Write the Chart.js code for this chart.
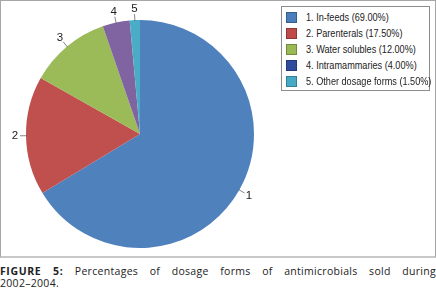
<!DOCTYPE html>
<html>
<head>
<meta charset="utf-8">
<script src="https://cdn.jsdelivr.net/npm/chart.js@4.4.1/dist/chart.umd.min.js"></script>
<style>
  body { margin: 0; background: #fff; width: 436px; height: 290px; overflow: hidden; position: relative; }
  #frame {
    position: absolute; left: 0; top: 0; width: 434px; height: 255px;
    border: 1px solid #a6a6a6; border-bottom: 2px solid #c8c8c8;
  }
  #chart { position: absolute; left: 0; top: 0; }
  #legend {
    position: absolute; left: 280px; top: 5px; width: 149px; height: 85px;
    border: 1px solid #8c8c8c; background: #fff; box-sizing: border-box;
    font: 10.5px "Liberation Sans", sans-serif; color: #222;
  }
  .item { position: absolute; left: 4px; height: 12px; line-height: 12px; white-space: nowrap; }
  .sw { position: absolute; left: 0; top: 1px; width: 9px; height: 9px; border: 1px solid rgba(0,0,0,0.25); }
  .txt { position: absolute; left: 20px; top: 0; transform: scaleX(0.87); transform-origin: 0 0; }
  #caption {
    position: absolute; left: 0; top: 265px; width: 436px;
    font: 10.5px "Open Sans", sans-serif; color: #222; line-height: 12px;
    letter-spacing: 0.3px;
  }
  #caption .l1 { text-align: justify; text-align-last: justify; }
  #caption b { font-weight: bold; letter-spacing: 0.6px; }
</style>
</head>
<body>
<div id="frame">
  <canvas id="chart" width="434" height="255"></canvas>
  <div id="legend"></div>
</div>
<div id="caption">
  <div class="l1"><b>FIGURE 5:</b> Percentages of dosage forms of antimicrobials sold during</div>
  <div>2002–2004.</div>
</div>
<script>
// dosage forms, share of antimicrobials sold (%)
const sliceLabels = ['1', '2', '3', '4', '5'];
const categories = ['1. In-feeds', '2. Parenterals', '3. Water solubles', '4. Intramammaries', '5. Other dosage forms'];
const shares = [69.0, 17.5, 12.0, 4.0, 1.5];
const sliceColors = ['#4f81bd', '#c0504d', '#9bbb59', '#8064a2', '#4bacc6'];
const legendColors = ['#4a7ebb', '#be4b48', '#98b954', '#2f4b9b', '#46aac5'];

// legend box
const legend = document.getElementById('legend');
const rowY = [4, 20, 36, 52, 68];
categories.forEach((name, i) => {
  const row = document.createElement('div');
  row.className = 'item';
  row.style.top = rowY[i] + 'px';
  row.innerHTML = '<span class="sw" style="background:' + legendColors[i] + '"></span>' +
    '<span class="txt">' + name + ' (' + shares[i].toFixed(2) + '%)</span>';
  legend.appendChild(row);
});

// numbers with short leader lines just outside each slice
const outsideLabels = {
  id: 'outsideLabels',
  afterDatasetsDraw(chart) {
    const ctx = chart.ctx;
    const meta = chart.getDatasetMeta(0);
    ctx.save();
    ctx.font = '11.5px "Liberation Sans", sans-serif';
    ctx.fillStyle = '#222';
    ctx.strokeStyle = '#666';
    ctx.lineWidth = 0.8;
    ctx.textAlign = 'center';
    ctx.textBaseline = 'middle';
    meta.data.forEach((arc, i) => {
      const p = arc.getProps(['x', 'y', 'startAngle', 'endAngle', 'outerRadius'], true);
      const a = (p.startAngle + p.endAngle) / 2;
      const c = Math.cos(a), s = Math.sin(a);
      ctx.beginPath();
      ctx.moveTo(p.x + c * (p.outerRadius - 1), p.y + s * (p.outerRadius - 1));
      ctx.lineTo(p.x + c * (p.outerRadius + 6), p.y + s * (p.outerRadius + 6));
      ctx.stroke();
      ctx.fillText(sliceLabels[i], p.x + c * (p.outerRadius + 11), p.y + s * (p.outerRadius + 11));
    });
    ctx.restore();
  }
};

new Chart(document.getElementById('chart'), {
  type: 'pie',
  data: {
    labels: categories,
    datasets: [{
      data: shares,
      backgroundColor: sliceColors,
      borderWidth: 0,
      hoverOffset: 0
    }]
  },
  options: {
    responsive: false,
    animation: false,
    layout: { padding: { left: 25, right: 181, top: 19, bottom: 8 } },
    plugins: {
      legend: { display: false },
      tooltip: { enabled: false }
    }
  },
  plugins: [outsideLabels]
});
</script>
</body>
</html>
